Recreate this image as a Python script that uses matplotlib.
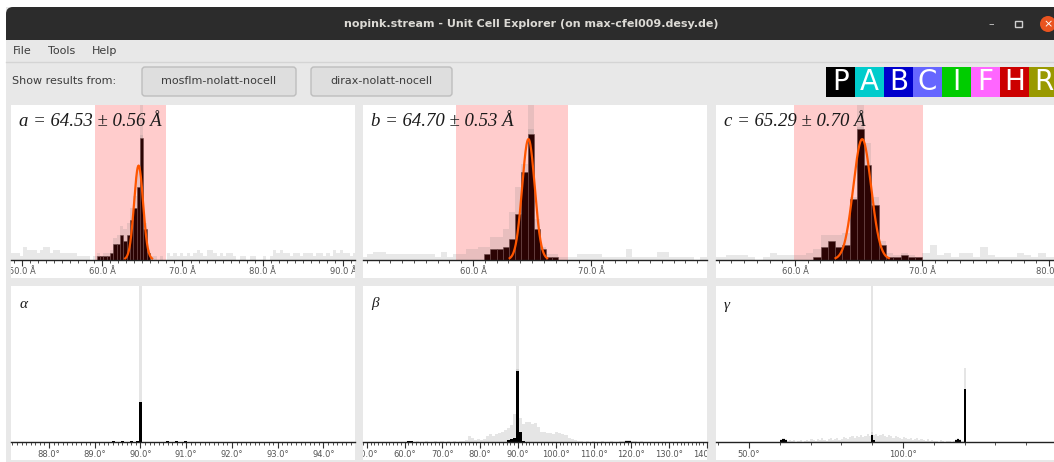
import numpy as np
import matplotlib.pyplot as plt
from matplotlib.patches import Rectangle, FancyBboxPatch, Circle
from matplotlib.ticker import MultipleLocator, FormatStrFormatter
from matplotlib.transforms import Bbox

W, H = 1054, 462

# ---- cell length histograms ----
# bins start at *_start with width *_width; *_all = every cell (grey),
# *_sel = cells of the chosen lattice (dark), starting at bin *_sel_first
a_start, a_width = 48.51, 0.415
a_all = [2, 2, 2, 1, 4, 3, 3, 3, 2, 3, 4, 4, 2, 3, 3, 2, 2, 2, 2, 2, 1, 1, 1, 1, 0, 1,
         2, 1, 2, 2, 3, 7, 8, 11, 10, 12, 17, 21, 30, 41, 12, 3,
         1, 1, 0, 1, 0, 2, 1, 2, 1, 2, 1, 2, 1, 2, 3, 2, 1, 3, 3, 2, 1, 2, 1, 2,
         2, 1, 0, 1, 1, 0, 1, 1, 0, 0, 1, 0, 1, 3, 2, 3, 2, 2, 1, 2, 2, 1, 2, 2,
         2, 1, 2, 2, 1, 2, 1, 3, 2, 3, 2, 2, 1, 2]
a_sel_first = 26
a_sel = [1, 1, 1, 1, 2, 5, 5, 8, 6, 8, 13, 17, 24, 40, 10, 2]
a_fit = (64.53, 0.56, 31.0)       # mean, sigma, height
a_accept = (59.1, 68.0)
a_xlim, a_ymax = (48.63, 91.5), 51.0

b_start, b_width = 50.50, 0.523
b_all = [1, 2, 3, 3, 2, 2, 2, 2, 2, 2, 2, 2, 1, 3, 1, 2, 2, 4, 4, 5,
         5, 9, 9, 12, 19, 29, 38, 52, 16, 5, 2, 2,
         1, 1, 1, 2, 2, 2, 2, 1, 1, 1, 1, 4, 1, 1, 1, 1, 3, 3, 1, 1, 1, 1, 0, 1]
b_sel_first = 20
b_sel = [2, 4, 4, 5, 8, 18, 35, 50, 12, 4, 1, 1]
b_fit = (64.70, 0.53, 48.0)
b_accept = (58.55, 68.05)
b_xlim, b_ymax = (50.68, 79.83), 61.6

c_start, c_width = 53.46, 0.571
c_all = [1, 1, 2, 2, 2, 1, 0, 1, 3, 2, 2, 2, 2, 3,
         5, 12, 12, 12, 13, 31, 66, 58, 31, 9, 3, 2, 3, 2, 1,
         3, 7, 2, 3, 1, 3, 3, 1, 6, 2, 1, 1, 1, 3, 2, 1, 3, 1, 1]
c_sel_first = 14
c_sel = [1, 6, 9, 6, 7, 30, 65, 47, 27, 7, 1, 1, 2, 1, 1]
c_fit = (65.29, 0.70, 60.0)
c_accept = (59.9, 70.1)
c_xlim, c_ymax = (53.78, 80.39), 77.0

# ---- cell angle histograms ----
al_start, al_width = 89.307, 0.066
al_all = [0, 1, 0, 0, 1, 0, 0, 1, 0, 1, 40, 0, 0, 0, 0, 0, 0, 0, 0, 1,
          0, 0, 1, 0, 0, 1, 0, 0, 0, 0]
al_sel = [0, 1, 0, 0, 1, 0, 0, 1, 0, 1, 40, 0, 0, 0, 0, 0, 0, 0, 0, 1,
          0, 0, 1, 0, 0, 1, 0, 0, 0, 0]
al_xlim = (87.17, 94.69)

be_start, be_width = 59.9, 0.8
be_all = [0, 1, 1, 0, 1, 0, 0, 1, 0, 0,
          1, 0, 1, 0, 1, 0, 1, 0, 1, 1,
          2, 6, 4, 2, 3, 2, 3, 6, 8, 6,
          8, 9, 10, 12, 14, 17, 28, 73, 24, 18,
          20, 20, 18, 19, 15, 10, 10, 9, 9, 8,
          10, 9, 8, 7, 4, 3, 2, 1, 1, 0,
          1, 0, 1, 0, 0, 1, 0, 0, 1, 0,
          0, 1, 1, 2, 2, 1, 1, 0, 1]
be_sel = [0, 1, 1, 0, 0, 0, 0, 0, 0, 0,
          0, 0, 0, 0, 0, 0, 0, 0, 0, 0,
          0, 0, 0, 0, 0, 0, 0, 0, 0, 0,
          0, 0, 0, 0, 2, 3, 4, 71, 10, 1,
          0, 0, 0, 0, 0, 0, 0, 0, 0, 0,
          0, 0, 0, 0, 0, 0, 0, 0, 0, 0,
          0, 0, 0, 0, 0, 0, 0, 0, 0, 0,
          0, 0, 0, 1, 1, 0, 0, 0, 0]
be_xlim = (49.0, 140.0)

ga_start, ga_width = 59.45, 0.7
ga_all = [0, 3, 4, 3, 1, 2, 1, 2, 0, 1,
          2, 0, 1, 2, 1, 3, 2, 1, 3, 2,
          4, 2, 1, 3, 4, 2, 3, 4, 2, 3,
          5, 4, 3, 5, 6, 4, 6, 5, 7, 5,
          6, 8, 6, 10, 7, 8, 6, 7, 8, 6,
          5, 7, 6, 4, 6, 5, 4, 3, 5, 4,
          3, 4, 2, 3, 4, 2, 3, 2, 1, 3,
          1, 2, 1, 1, 0, 2, 1, 0, 1, 1,
          0, 1, 3, 4, 3, 1, 74, 0]
ga_sel = [0, 2, 3, 2, 0, 0, 0, 0, 0, 0,
          0, 0, 0, 0, 0, 0, 0, 0, 0, 0,
          0, 0, 0, 0, 0, 0, 0, 0, 0, 0,
          0, 0, 0, 0, 0, 0, 0, 0, 0, 0,
          0, 0, 0, 7, 2, 0, 0, 0, 0, 0,
          0, 0, 0, 0, 0, 0, 0, 0, 0, 0,
          0, 0, 0, 0, 0, 0, 0, 0, 0, 0,
          0, 0, 0, 0, 0, 0, 0, 0, 0, 0,
          0, 0, 2, 3, 2, 0, 53, 0]
ga_xlim = (39.3, 149.0)
angle_ymax = 156.0

lattice_letters = ['P', 'A', 'B', 'C', 'I', 'F', 'H', 'R']
lattice_colors = ['#000000', '#00cccc', '#0000cc', '#6666ff',
                  '#00cc00', '#ff66ff', '#cc0000', '#999900']

fig = plt.figure(figsize=(W / 100, H / 100), dpi=100)
fig.patch.set_facecolor('white')

# background layer in pixel coordinates for the window decoration
bg = fig.add_axes([0, 0, 1, 1])
bg.set_xlim(0, W)
bg.set_ylim(H, 0)
bg.axis('off')

bg.add_patch(Rectangle((6, 7), W, H, color='#e8e8e8', lw=0))
bg.add_patch(FancyBboxPatch((6, 7), W + 20, 33, boxstyle='round,pad=0,rounding_size=7',
                            color='#2c2c2c', lw=0))
bg.add_patch(Rectangle((6, 25), W, 15, color='#2c2c2c', lw=0))
bg.text(531, 24, 'nopink.stream - Unit Cell Explorer (on max-cfel009.desy.de)',
        ha='center', va='center', color='#dcdad5', fontsize=8, fontweight='bold')
bg.text(991, 24, '–', ha='center', va='center', color='#d0d0d0', fontsize=8)
bg.add_patch(Rectangle((1015, 21), 7, 6, fill=False, ec='#d0d0d0', lw=1))
bg.add_patch(Circle((1048, 24), 8, color='#e95420', lw=0))
bg.text(1048, 24, '×', ha='center', va='center', color='white', fontsize=8)

# menu bar
for label, x in zip(['File', 'Tools', 'Help'], [13, 48, 92]):
    bg.text(x, 51, label, va='center', fontsize=8, color='#3c3c3c')
bg.plot([6, W], [62, 62], color='#d4d4d4', lw=1)

# tool bar
bg.text(12, 81, 'Show results from:', va='center', fontsize=8, color='#3c3c3c')
for label, x0, w in [('mosflm-nolatt-nocell', 142, 154), ('dirax-nolatt-nocell', 311, 141)]:
    bg.add_patch(FancyBboxPatch((x0, 67), w, 29, boxstyle='round,pad=0,rounding_size=3',
                                fc='#dedede', ec='#bdbdbd', lw=1))
    bg.text(x0 + w / 2, 81.5, label, ha='center', va='center', fontsize=8, color='#3c3c3c')
for i, (letter, col) in enumerate(zip(lattice_letters, lattice_colors)):
    bg.add_patch(Rectangle((826 + 29 * i, 67), 29, 30, color=col, lw=0))
    bg.text(840.5 + 29 * i, 82.5, letter, ha='center', va='center', color='white',
            fontsize=20, family=['Liberation Sans Narrow', 'DejaVu Sans'])


def add_panel(x0, x1, y_top, y_base, y_bot):
    bg.add_patch(Rectangle((x0, y_top), x1 - x0, y_bot - y_top, color='white', lw=0))
    ax = fig.add_axes([x0 / W, 1 - y_base / H, (x1 - x0) / W, (y_base - y_top) / H])
    ax.set_facecolor('none')
    for s in ['left', 'right', 'top']:
        ax.spines[s].set_visible(False)
    ax.spines['bottom'].set_color('#222222')
    ax.spines['bottom'].set_linewidth(1)
    ax.spines['bottom'].set_zorder(5)
    ax.set_yticks([])
    ax.tick_params(axis='x', which='major', length=4, width=0.8, color='#333333',
                   labelsize=6, labelcolor='#555555', pad=1.5)
    ax.tick_params(axis='x', which='minor', length=2, width=0.6, color='#333333')
    ax.clip_rect = Bbox.from_extents(x0, H - y_bot, x1, H - y_top)
    return ax


def clip_labels(ax):
    # tick labels stop at the edge of their white panel
    for t in ax.xaxis.get_major_ticks():
        t.label1.set_clip_box(ax.clip_rect)
        t.label1.set_clip_on(True)


def fig_text(x, y, s, **kw):
    fig.text(x / W, 1 - y / H, s, **kw)


# cell lengths
length_panels = [
    (11, 355, a_start, a_width, a_all, a_sel_first, a_sel, a_fit, a_accept, a_xlim, a_ymax),
    (363, 707, b_start, b_width, b_all, b_sel_first, b_sel, b_fit, b_accept, b_xlim, b_ymax),
    (716, W, c_start, c_width, c_all, c_sel_first, c_sel, c_fit, c_accept, c_xlim, c_ymax),
]
for x0, x1, start, width, all_c, first, sel, fit, accept, xlim, ymax in length_panels:
    ax = add_panel(x0, x1, 105, 259.5, 278)
    lefts = start + width * np.arange(len(all_c))
    sel_lefts = lefts[first:first + len(sel)]
    ax.axvspan(accept[0], accept[1], color='#ffcccc', lw=0, zorder=0)
    k = int(np.argmax(sel))
    ax.axvspan(sel_lefts[k], sel_lefts[k] + width, color='0.5', alpha=0.18, lw=0, zorder=0.5)
    ax.bar(lefts, all_c, width=width, align='edge', color='0.5', alpha=0.18, lw=0, zorder=1)
    ax.bar(sel_lefts, sel, width=width, align='edge', color='#2b0303',
           edgecolor='#6e4a4a', lw=0.4, zorder=2)
    mu, sig, h = fit
    xs = np.linspace(mu - 3 * sig, mu + 3 * sig, 200)
    ax.plot(xs, h * np.exp(-0.5 * ((xs - mu) / sig) ** 2), color='#ff5500', lw=1.6, zorder=3)
    ax.set_xlim(*xlim)
    ax.set_ylim(0, ymax)
    ax.xaxis.set_major_locator(MultipleLocator(10))
    ax.xaxis.set_minor_locator(MultipleLocator(1))
    ax.xaxis.set_major_formatter(FormatStrFormatter('%.1f Å'))
    clip_labels(ax)

# cell angles
angle_panels = [
    (11, 355, al_start, al_width, al_all, al_sel, al_xlim, 1, 0.1),
    (363, 707, be_start, be_width, be_all, be_sel, be_xlim, 10, 1),
    (716, W, ga_start, ga_width, ga_all, ga_sel, ga_xlim, 50, 10),
]
for x0, x1, start, width, all_c, sel, xlim, major, minor in angle_panels:
    ax = add_panel(x0, x1, 286, 442, 460)
    lefts = start + width * np.arange(len(all_c))
    k = int(np.searchsorted(lefts, 90.0, side='right')) - 1
    ax.axvspan(lefts[k], lefts[k] + width, color='0.5', alpha=0.2, lw=0, zorder=0.5)
    ax.bar(lefts, all_c, width=width, align='edge', color='0.5', alpha=0.2, lw=0, zorder=1)
    ax.bar(lefts, sel, width=width, align='edge', color='black', lw=0, zorder=2)
    ax.set_xlim(*xlim)
    ax.set_ylim(0, angle_ymax)
    ax.xaxis.set_major_locator(MultipleLocator(major))
    ax.xaxis.set_minor_locator(MultipleLocator(minor))
    ax.xaxis.set_major_formatter(FormatStrFormatter('%.1f°'))
    clip_labels(ax)

# panel captions
serif = dict(family='Liberation Serif', style='italic', color='#1a1a1a', va='center')
fig_text(19, 121, 'a = 64.53 ± 0.56 Å', fontsize=13.5, **serif)
fig_text(371, 121, 'b = 64.70 ± 0.53 Å', fontsize=13.5, **serif)
fig_text(724, 121, 'c = 65.29 ± 0.70 Å', fontsize=13.5, **serif)
fig_text(20, 305, 'α', fontsize=11, **serif)
fig_text(371, 304, 'β', fontsize=11, **serif)
fig_text(724, 305, 'γ', fontsize=11, **serif)

fig.savefig('out.png', dpi=100)
